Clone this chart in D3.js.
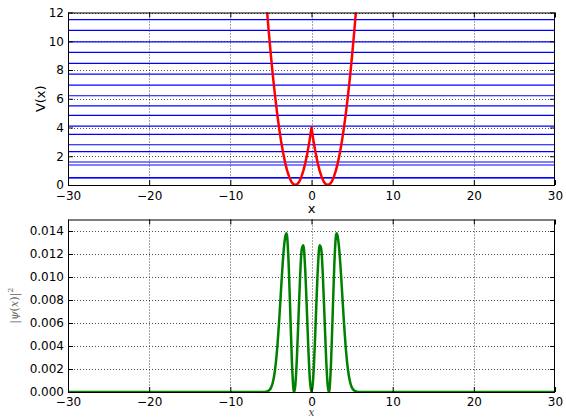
<!DOCTYPE html>
<html>
<head>
<meta charset="utf-8">
<script src="https://cdn.jsdelivr.net/npm/d3@7"></script>
<style>
	body { margin: 0; background: #fff; }
	svg { display: block; font-family: "DejaVu Sans", sans-serif; }
	.grid line { stroke: #000; stroke-width: 0.7; stroke-dasharray: 1,2; }
	.tick text { font-family: "DejaVu Sans", sans-serif; font-size: 12px; fill: #000; }
	.domain { display: none; }
</style>
</head>
<body>
<script>
// energy levels (horizontal lines)
var levels = [0.50, 0.52, 1.39, 1.60, 2.32, 2.80, 3.52, 4.10, 4.84, 5.51,
	6.21, 6.95, 7.71, 8.46, 9.22, 9.96, 10.75, 11.51];

// potential V(x), sampled
var potX = [-5.75, -5.5, -5.25, -5, -4.75, -4.5, -4.25, -4, -3.75, -3.5, -3.25, -3,
	-2.75, -2.5, -2.25, -2, -1.75, -1.5, -1.25, -1, -0.75, -0.5, -0.25, 0,
	0.25, 0.5, 0.75, 1, 1.25, 1.5, 1.75, 2, 2.25, 2.5, 2.75, 3, 3.25, 3.5,
	3.75, 4, 4.25, 4.5, 4.75, 5, 5.25, 5.5, 5.75];
var potV = [14.06, 12.25, 10.56, 9.0, 7.56, 6.25, 5.06, 4.0, 3.06, 2.25, 1.56, 1.0,
	0.56, 0.25, 0.06, 0.0, 0.06, 0.25, 0.56, 1.0, 1.56, 2.25, 3.06, 4.0,
	3.06, 2.25, 1.56, 1.0, 0.56, 0.25, 0.06, 0.0, 0.06, 0.25, 0.56, 1.0, 1.56, 2.25,
	3.06, 4.0, 5.06, 6.25, 7.56, 9.0, 10.56, 12.25, 14.06];

// probability density |psi(x)|^2, sampled
var psiX = [-30, -6, -5.8, -5.6, -5.4, -5.2, -5.0, -4.8, -4.6, -4.4, -4.2, -4.0,
	-3.8, -3.6, -3.4, -3.2, -3.09, -3.0, -2.8, -2.6, -2.4, -2.2, -2.14,
	-2.0, -1.8, -1.6, -1.4, -1.2, -1.0, -0.8, -0.6, -0.4, -0.2, 0,
	0.2, 0.4, 0.6, 0.8, 1.0, 1.2, 1.4, 1.6, 1.8, 2.0, 2.14,
	2.2, 2.4, 2.6, 2.8, 3.0, 3.09, 3.2, 3.4, 3.6, 3.8, 4.0,
	4.2, 4.4, 4.6, 4.8, 5.0, 5.2, 5.4, 5.6, 5.8, 6, 30];
var psiY = [0, 0, 0, 0.00002, 0.00007, 0.00016, 0.00036, 0.00074, 0.00141, 0.00248, 0.00403, 0.00603,
	0.00834, 0.01064, 0.01253, 0.01363, 0.0138, 0.0135, 0.01086, 0.00657, 0.0024, 0.000135, 0,
	0.00054, 0.00296, 0.00654, 0.0101, 0.01244, 0.01276, 0.01097, 0.00767, 0.00396, 0.00108, 0,
	0.00108, 0.00396, 0.00767, 0.01097, 0.01276, 0.01244, 0.0101, 0.00654, 0.00296, 0.00054, 0,
	0.000135, 0.0024, 0.00657, 0.01086, 0.0135, 0.0138, 0.01363, 0.01253, 0.01064, 0.00834, 0.00603,
	0.00403, 0.00248, 0.00141, 0.00074, 0.00036, 0.00016, 0.00007, 0.00002, 0, 0, 0];

var xTicks = [-30, -20, -10, 0, 10, 20, 30];
var vTicks = [0, 2, 4, 6, 8, 10, 12];
var pTicks = [0, 0.002, 0.004, 0.006, 0.008, 0.010, 0.012, 0.014];

var W = 566, H = 418;
var left = 68, right = 555;

var svg = d3.select("body").append("svg")
	.attr("width", W)
	.attr("height", H);

var x = d3.scaleLinear().domain([-30, 30]).range([left, right]);

// draws one panel: grid, frame, ticks on all four sides
function panel(id, top, bottom, y, yTicks, yFmt, xPad) {
	var g = svg.append("g");

	svg.append("clipPath").attr("id", id)
		.append("rect")
		.attr("x", left).attr("y", top)
		.attr("width", right - left).attr("height", bottom - top);

	var grid = g.append("g").attr("class", "grid");
	grid.selectAll(".gx").data(xTicks.slice(1, -1)).enter().append("line")
		.attr("x1", function (d) { return Math.round(x(d)) + 0.5; })
		.attr("x2", function (d) { return Math.round(x(d)) + 0.5; })
		.attr("y1", top).attr("y2", bottom);
	grid.selectAll(".gy").data(yTicks.slice(1)).enter().append("line")
		.attr("x1", left).attr("x2", right)
		.attr("y1", function (d) { return Math.round(y(d)) + 0.5; })
		.attr("y2", function (d) { return Math.round(y(d)) + 0.5; });

	var plot = g.append("g").attr("clip-path", "url(#" + id + ")");

	var frame = svg.append("g");
	frame.append("g")
		.attr("transform", "translate(0," + bottom + ")")
		.call(d3.axisBottom(x).tickValues(xTicks).tickSize(-5).tickPadding(xPad));
	frame.append("g")
		.attr("transform", "translate(0," + top + ")")
		.call(d3.axisTop(x).tickValues(xTicks).tickSize(-5).tickFormat(""));
	frame.append("g")
		.attr("transform", "translate(" + left + ",0)")
		.call(d3.axisLeft(y).tickValues(yTicks).tickSize(-5).tickPadding(4).tickFormat(yFmt));
	frame.append("g")
		.attr("transform", "translate(" + right + ",0)")
		.call(d3.axisRight(y).tickValues(yTicks).tickSize(-5).tickFormat(""));
	frame.selectAll("g").attr("font-family", null).attr("font-size", null);
	frame.selectAll(".tick line").attr("stroke", "#000");

	frame.append("rect")
		.attr("x", left + 0.5).attr("y", top + 0.5)
		.attr("width", right - left - 1).attr("height", bottom - top)
		.attr("fill", "none").attr("stroke", "#000").attr("stroke-width", 1);

	return plot;
}

// top panel: potential and levels
var yV = d3.scaleLinear().domain([0, 12]).range([185, 12.5]);
var top1 = panel("clipTop", 12.5, 185, yV, vTicks, d3.format("d"), 6);

top1.selectAll(".level").data(levels).enter().append("line")
	.attr("x1", left).attr("x2", right)
	.attr("y1", function (d) { return yV(d); })
	.attr("y2", function (d) { return yV(d); })
	.attr("stroke", "#0000ff").attr("stroke-width", 1.2);

top1.append("path")
	.datum(d3.range(potX.length))
	.attr("fill", "none")
	.attr("stroke", "#ff0000")
	.attr("stroke-width", 2.5)
	.attr("stroke-linejoin", "round")
	.attr("d", d3.line()
		.x(function (i) { return x(potX[i]); })
		.y(function (i) { return yV(potV[i]); }));

// bottom panel: density
var yP = d3.scaleLinear().domain([0, 0.015]).range([392, 219.5]);
var bot = panel("clipBot", 219.5, 392, yP, pTicks, d3.format(".3f"), 5);

bot.append("path")
	.datum(d3.range(psiX.length))
	.attr("fill", "none")
	.attr("stroke", "#008000")
	.attr("stroke-width", 2.5)
	.attr("stroke-linejoin", "round")
	.attr("d", d3.line()
		.curve(d3.curveMonotoneX)
		.x(function (i) { return x(psiX[i]); })
		.y(function (i) { return yP(psiY[i]); }));

// labels
svg.append("text")
	.attr("x", (left + right) / 2).attr("y", 213)
	.attr("text-anchor", "middle")
	.style("font-size", "13px")
	.text("x");

svg.append("text")
	.attr("transform", "translate(45," + ((12.5 + 185) / 2) + ") rotate(-90)")
	.attr("text-anchor", "middle")
	.style("font-size", "13px")
	.text("V(x)");

svg.append("text")
	.attr("x", (left + right) / 2).attr("y", 415.5)
	.attr("text-anchor", "middle")
	.style("font-family", "DejaVu Serif, serif")
	.style("font-style", "italic")
	.style("font-size", "10.5px")
	.attr("fill", "#444")
	.text("x");

var pl = svg.append("text")
	.attr("transform", "translate(18," + ((219.5 + 392) / 2) + ") rotate(-90)")
	.attr("text-anchor", "middle")
	.style("font-family", "DejaVu Serif, serif")
	.style("font-size", "11px")
	.attr("fill", "#666");
pl.append("tspan").text("|");
pl.append("tspan").style("font-style", "italic").text("ψ");
pl.append("tspan").text("(");
pl.append("tspan").style("font-style", "italic").text("x");
pl.append("tspan").text(")|");
pl.append("tspan").attr("dy", -5).style("font-size", "8px").text("2");
</script>
</body>
</html>
